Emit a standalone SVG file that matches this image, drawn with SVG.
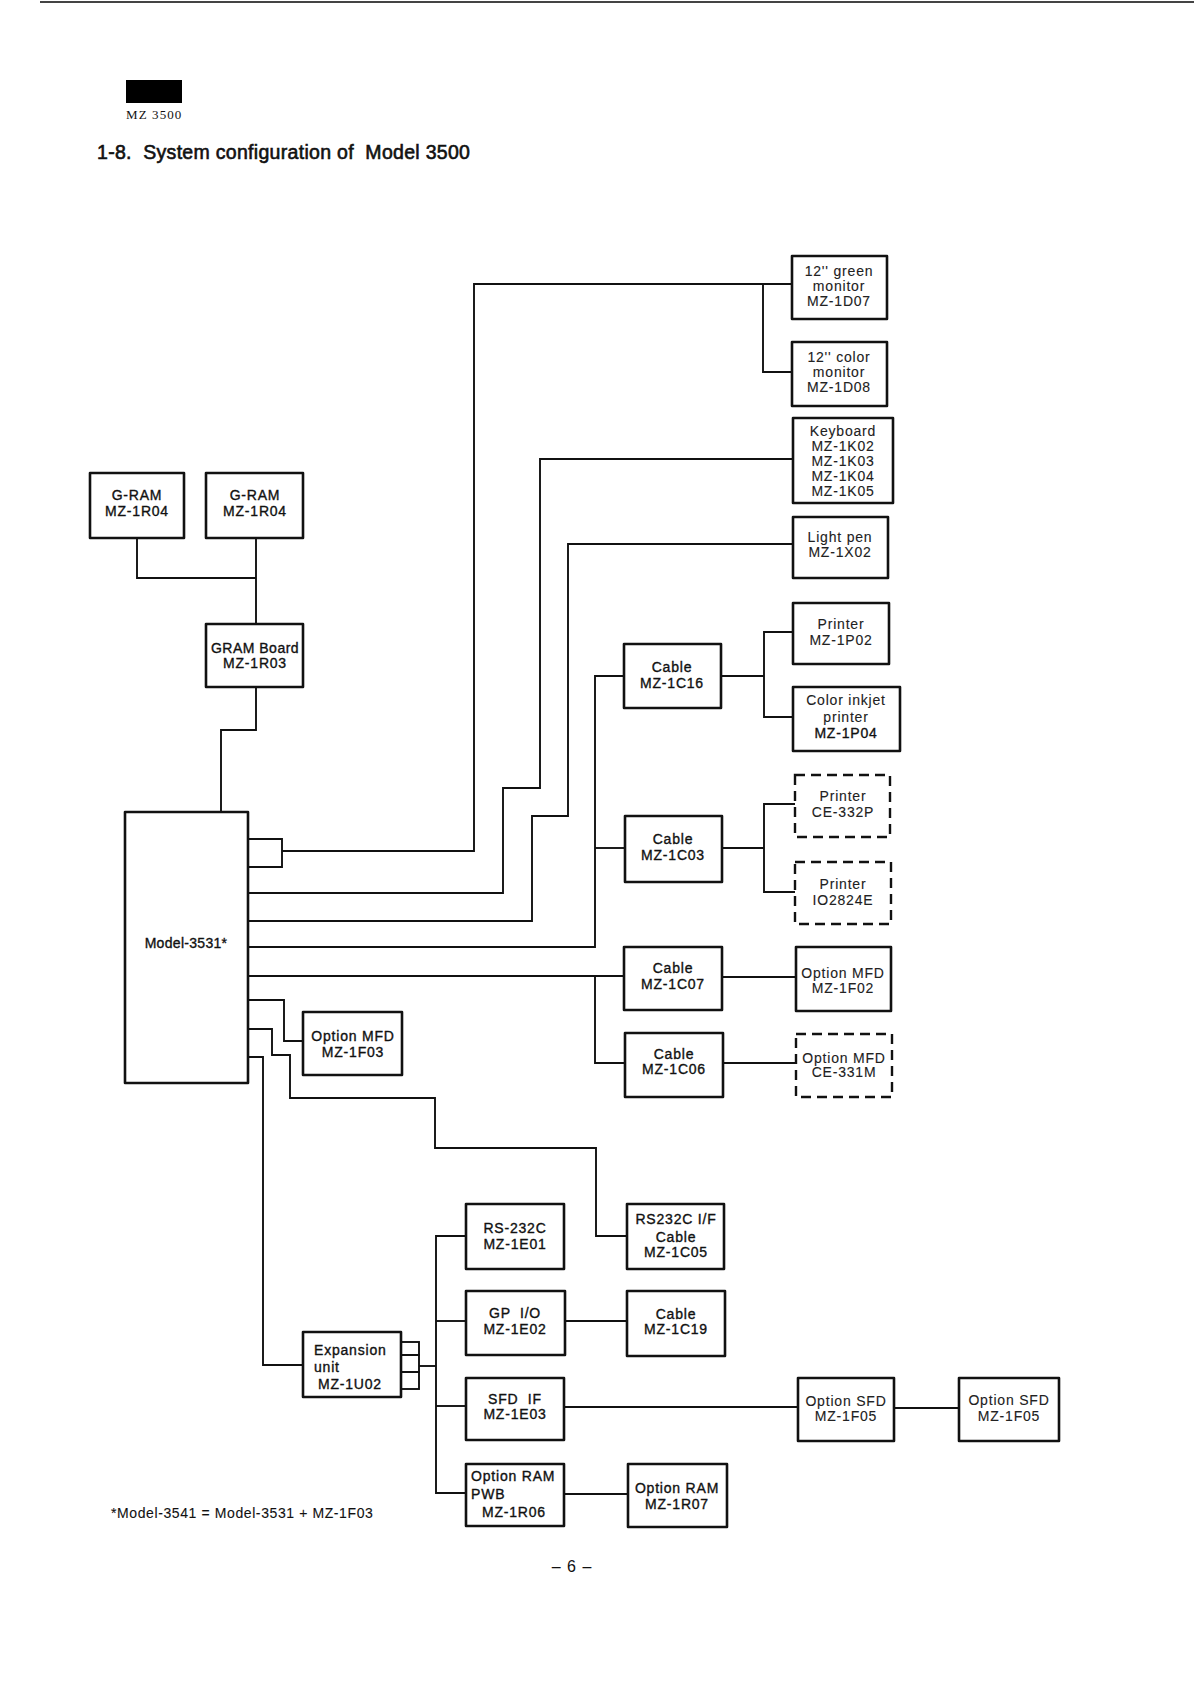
<svg xmlns="http://www.w3.org/2000/svg" width="1194" height="1686" viewBox="0 0 1194 1686">
<style>
.bg{fill:#fff}
.box{fill:none;stroke:#111;stroke-width:2.6;stroke-linejoin:round}
.dash{fill:none;stroke:#111;stroke-width:2.4;stroke-dasharray:10 6}
.ln{fill:none;stroke:#111;stroke-width:1.9;stroke-linejoin:miter}
text{font-family:"Liberation Sans",Arial,sans-serif;font-size:14px;fill:#111;letter-spacing:0.8px;stroke:#111;stroke-width:0.35px}
.c{text-anchor:middle}
.lt{fill:#222;stroke-width:0.1px}
</style>
<rect class="bg" x="0" y="0" width="1194" height="1686"/>
<line x1="40" y1="2" x2="1194" y2="2" stroke="#444" stroke-width="2"/>
<g id="header">
<rect x="126" y="80" width="56" height="23" fill="#000"/>
<text x="126" y="119" style="font-family:'Liberation Serif','Times New Roman',serif;font-size:13px;letter-spacing:1.1px;stroke-width:0">MZ 3500</text>
<text x="97" y="159" xml:space="preserve" style="font-size:19.5px;letter-spacing:0.3px;stroke-width:0.6px">1-8.  System configuration of  Model 3500</text>
</g>

<g id="connectors">
<polyline class="ln" points="137,538 137,578 256,578"/>
<polyline class="ln" points="256,538 256,624"/>
<polyline class="ln" points="256,687 256,730 221,730 221,812"/>
<polyline class="ln" points="248,839 282,839 282,867 248,867"/>
<polyline class="ln" points="282,851 474,851 474,284 792,284"/>
<polyline class="ln" points="763,284 763,372 792,372"/>
<polyline class="ln" points="248,893 503,893 503,788 540,788 540,459 793,459"/>
<polyline class="ln" points="248,921 532,921 532,816 568,816 568,544 793,544"/>
<polyline class="ln" points="248,947 595,947 595,676 624,676"/>
<polyline class="ln" points="595,848 625,848"/>
<polyline class="ln" points="721,676 764,676"/>
<polyline class="ln" points="793,632 764,632 764,717 793,717"/>
<polyline class="ln" points="722,848 764,848"/>
<polyline class="ln" points="795,804 764,804 764,892 795,892"/>
<polyline class="ln" points="248,976 624,976"/>
<polyline class="ln" points="595,976 595,1063 625,1063"/>
<polyline class="ln" points="722,977 796,977"/>
<polyline class="ln" points="723,1063 796,1063"/>
<polyline class="ln" points="248,1000 284,1000 284,1041 303,1041"/>
<polyline class="ln" points="248,1029 272,1029 272,1055 290,1055 290,1098 435,1098 435,1148 596,1148 596,1236 627,1236"/>
<polyline class="ln" points="248,1057 263,1057 263,1365 303,1365"/>
<polyline class="ln" points="419,1366 436,1366"/>
<polyline class="ln" points="466,1236 436,1236 436,1493 466,1493"/>
<polyline class="ln" points="436,1321 466,1321"/>
<polyline class="ln" points="436,1406 466,1406"/>
<polyline class="ln" points="565,1321 627,1321"/>
<polyline class="ln" points="564,1407 798,1407"/>
<polyline class="ln" points="894,1408 959,1408"/>
<polyline class="ln" points="564,1494 628,1494"/>
</g>

<g id="gram1"><rect class="box" x="90" y="473" width="94" height="65"/>
<text class="c" x="137" y="500">G-RAM</text><text class="c" x="137" y="516">MZ-1R04</text></g>
<g id="gram2"><rect class="box" x="206" y="473" width="97" height="65"/>
<text class="c" x="255" y="500">G-RAM</text><text class="c" x="255" y="516">MZ-1R04</text></g>
<g id="gramboard"><rect class="box" x="206" y="624" width="97" height="63"/>
<text class="c" x="255" y="653" style="letter-spacing:0.5px">GRAM Board</text><text class="c" x="255" y="668">MZ-1R03</text></g>
<g id="model3531"><rect class="box" x="125" y="812" width="123" height="271"/>
<text class="c" x="186" y="948" style="letter-spacing:0.3px">Model-3531*</text></g>
<g id="mfd1f03"><rect class="box" x="303" y="1012" width="99" height="63"/>
<text class="c" x="353" y="1041">Option MFD</text><text class="c" x="353" y="1057">MZ-1F03</text></g>

<g id="green"><rect class="box" x="792" y="256" width="95" height="63"/>
<text class="c lt" x="839" y="276">12'' green</text><text class="c lt" x="839" y="291">monitor</text><text class="c lt" x="839" y="306">MZ-1D07</text></g>
<g id="colormon"><rect class="box" x="792" y="342" width="95" height="64"/>
<text class="c lt" x="839" y="362">12'' color</text><text class="c lt" x="839" y="377">monitor</text><text class="c lt" x="839" y="392">MZ-1D08</text></g>
<g id="keyboard"><rect class="box" x="793" y="418" width="100" height="85"/>
<text class="c lt" x="843" y="436">Keyboard</text><text class="c lt" x="843" y="451">MZ-1K02</text><text class="c lt" x="843" y="466">MZ-1K03</text><text class="c lt" x="843" y="481">MZ-1K04</text><text class="c lt" x="843" y="496">MZ-1K05</text></g>
<g id="lightpen"><rect class="box" x="793" y="517" width="95" height="61"/>
<text class="c lt" x="840" y="542">Light pen</text><text class="c lt" x="840" y="557">MZ-1X02</text></g>
<g id="printer1p02"><rect class="box" x="793" y="603" width="96" height="61"/>
<text class="c lt" x="841" y="629">Printer</text><text class="c lt" x="841" y="645">MZ-1P02</text></g>
<g id="inkjet"><rect class="box" x="793" y="687" width="107" height="64"/>
<text class="c lt" x="846" y="705">Color inkjet</text><text class="c lt" x="846" y="722">printer</text><text class="c" x="846" y="738">MZ-1P04</text></g>
<g id="cable1c16"><rect class="box" x="624" y="644" width="97" height="64"/>
<text class="c" x="672" y="672">Cable</text><text class="c" x="672" y="688">MZ-1C16</text></g>
<g id="ce332p"><rect class="dash" x="795" y="775" width="95" height="62"/>
<text class="c lt" x="843" y="801">Printer</text><text class="c lt" x="843" y="817">CE-332P</text></g>
<g id="cable1c03"><rect class="box" x="625" y="816" width="97" height="66"/>
<text class="c" x="673" y="844">Cable</text><text class="c" x="673" y="860">MZ-1C03</text></g>
<g id="io2824e"><rect class="dash" x="795" y="862" width="96" height="62"/>
<text class="c lt" x="843" y="889">Printer</text><text class="c lt" x="843" y="905">IO2824E</text></g>
<g id="cable1c07"><rect class="box" x="624" y="947" width="98" height="63"/>
<text class="c" x="673" y="973">Cable</text><text class="c" x="673" y="989">MZ-1C07</text></g>
<g id="mfd1f02"><rect class="box" x="796" y="947" width="95" height="64"/>
<text class="c lt" x="843" y="978">Option MFD</text><text class="c lt" x="843" y="993">MZ-1F02</text></g>
<g id="cable1c06"><rect class="box" x="625" y="1033" width="98" height="64"/>
<text class="c" x="674" y="1059">Cable</text><text class="c" x="674" y="1074">MZ-1C06</text></g>
<g id="ce331m"><rect class="dash" x="796" y="1034" width="96" height="63"/>
<text class="c lt" x="844" y="1063">Option MFD</text><text class="c lt" x="844" y="1077">CE-331M</text></g>

<g id="expansion"><rect class="box" x="303" y="1332" width="98" height="65"/>
<rect class="ln" x="401" y="1342" width="18" height="13"/><rect class="ln" x="401" y="1355" width="18" height="17"/><rect class="ln" x="401" y="1372" width="18" height="17"/>
<text x="314" y="1355">Expansion</text><text x="314" y="1372">unit</text><text x="318" y="1389">MZ-1U02</text></g>
<g id="rs232c"><rect class="box" x="466" y="1204" width="98" height="65"/>
<text class="c" x="515" y="1233">RS-232C</text><text class="c" x="515" y="1249">MZ-1E01</text></g>
<g id="gpio"><rect class="box" x="466" y="1291" width="99" height="64"/>
<text class="c" x="515" y="1318" xml:space="preserve">GP  I/O</text><text class="c" x="515" y="1334">MZ-1E02</text></g>
<g id="sfdif"><rect class="box" x="466" y="1378" width="98" height="62"/>
<text class="c" x="515" y="1404" xml:space="preserve">SFD  IF</text><text class="c" x="515" y="1419">MZ-1E03</text></g>
<g id="rampwb"><rect class="box" x="466" y="1464" width="98" height="62"/>
<text x="471" y="1481">Option RAM</text><text x="471" y="1499">PWB</text><text x="482" y="1517">MZ-1R06</text></g>
<g id="rs232if"><rect class="box" x="627" y="1204" width="97" height="65"/>
<text class="c" x="676" y="1224">RS232C I/F</text><text class="c" x="676" y="1242">Cable</text><text class="c" x="676" y="1257">MZ-1C05</text></g>
<g id="cable1c19"><rect class="box" x="627" y="1291" width="98" height="65"/>
<text class="c" x="676" y="1319">Cable</text><text class="c" x="676" y="1334">MZ-1C19</text></g>
<g id="sfd1"><rect class="box" x="798" y="1378" width="96" height="63"/>
<text class="c lt" x="846" y="1406">Option SFD</text><text class="c lt" x="846" y="1421">MZ-1F05</text></g>
<g id="sfd2"><rect class="box" x="959" y="1378" width="100" height="63"/>
<text class="c lt" x="1009" y="1405">Option SFD</text><text class="c lt" x="1009" y="1421">MZ-1F05</text></g>
<g id="ram1r07"><rect class="box" x="628" y="1464" width="99" height="63"/>
<text class="c" x="677" y="1493">Option RAM</text><text class="c" x="677" y="1509">MZ-1R07</text></g>

<text x="111" y="1518" style="font-size:14px;letter-spacing:0.6px;stroke-width:0.1px">*Model-3541 = Model-3531 + MZ-1F03</text>
<text class="c" x="572" y="1572" style="font-size:16px;letter-spacing:1px;stroke-width:0">– 6 –</text>
</svg>
